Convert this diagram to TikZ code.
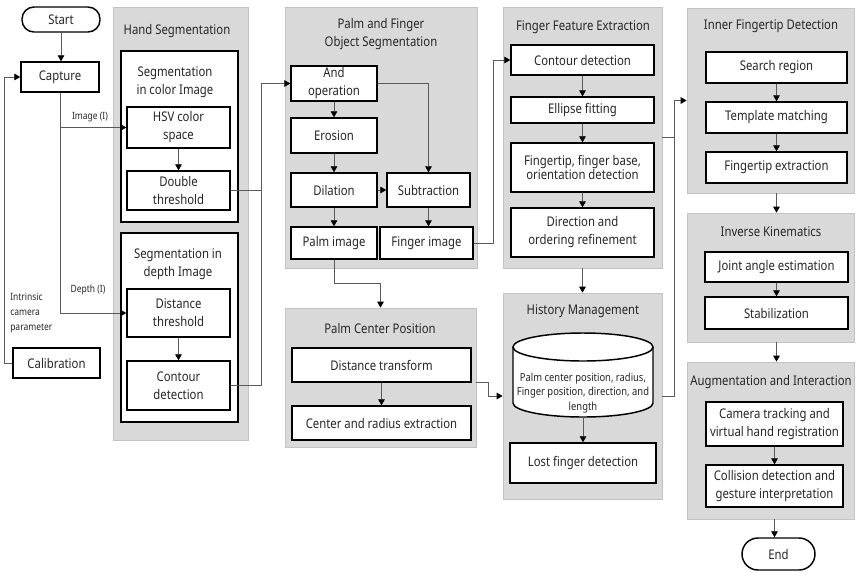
\documentclass[tikz,border=0pt]{standalone}
\usepackage{fontspec}
\setmainfont{Noto Sans}[FakeStretch=0.85]
\usetikzlibrary{arrows.meta,calc}
\definecolor{panelfill}{HTML}{D9D9D9}
\definecolor{panelline}{HTML}{C3C3C3}
\definecolor{wiregray}{HTML}{5A5A5A}
\definecolor{ink}{HTML}{262626}

% \rectnode[style]{x1}{y1}{x2}{y2}{name}{text}: a node spanning the given corners
\newcommand\rectnode[7][]{%
  \node[#1,minimum width={(#4-#2)*0.75pt},minimum height={(#5-#3)*0.75pt}]
    (#6) at ({(#2+#4)/2},{(#3+#5)/2}) {#7};}

\begin{document}
\begin{tikzpicture}[x=0.75pt,y=-0.75pt,
  panel/.style={fill=panelfill,draw=panelline,line width=0.6pt,inner sep=0pt},
  box/.style={fill=white,draw=black,line width=1.1pt,inner sep=0pt,align=center,
    text=ink,font=\fontsize{10}{13.5}\selectfont},
  group/.style={fill=white,draw=black,line width=1.1pt,inner sep=0pt},
  term/.style={box,rounded corners=#1},
  ttl/.style={text=ink,align=center,inner sep=0pt,font=\fontsize{10}{13.5}\selectfont},
  small/.style={text=ink,inner sep=0pt,font=\fontsize{7.5}{11.25}\selectfont},
  wire/.style={draw=wiregray,line width=0.6pt},
  arr/.style={wire,-{Triangle[length=4.5pt,width=5pt,color=black]}}
]
\useasboundingbox (0,0) rectangle (860,572);

% ---------- panels ----------
\rectnode[panel]{113}{7}{248}{440}{hs}{}
\rectnode[panel]{285}{7}{477}{268}{pfs}{}
\rectnode[panel]{285}{308}{476}{447}{pcp}{}
\rectnode[panel]{503}{7}{662}{268}{ffe}{}
\rectnode[panel]{503}{293}{662}{499}{hist}{}
\rectnode[panel]{687}{8}{854}{193}{ifd}{}
\rectnode[panel]{687}{213}{854}{342}{ik}{}
\rectnode[panel]{687}{362}{854}{519}{aug}{}

\node[ttl] (hsT) at (177,31) {Hand Segmentation};
\node[ttl] (pfsT) at (381,34) {Palm and Finger\\Object Segmentation};
\node[ttl] (pcpT) at (380,328) {Palm Center Position};
\node[ttl] (ffeT) at (583,27) {Finger Feature Extraction};
\node[ttl] (histT) at (583,311) {History Management};
\node[ttl] (ifdT) at (771,26) {Inner Fingertip Detection};
\node[ttl] (ikT) at (771,232) {Inverse Kinematics};
\node[ttl] (augT) at (771,382) {Augmentation and Interaction};

% ---------- input side ----------
\rectnode[term=9pt]{22}{7}{100}{32}{start}{Start}
\rectnode[box]{21}{62}{99}{92}{cap}{Capture}
\rectnode[box]{13}{348}{100}{378}{cal}{Calibration}
\node[small,anchor=west,align=left] (intr) at (10,313) {Intrinsic\\camera\\parameter};
\node[small] (imgL) at (90,117) {Image (I)};
\node[small] (depL) at (88,290) {Depth (I)};

% ---------- hand segmentation ----------
\rectnode[group]{121}{51}{238}{222}{gcol}{}
\node[ttl] (gcolT) at (175,82) {Segmentation\\in color Image};
\rectnode[box]{127}{107}{230}{148}{hsv}{HSV color\\space}
\rectnode[box]{127}{171}{230}{210}{dbl}{Double\\threshold}
\rectnode[group]{121}{233}{238}{422}{gdep}{}
\node[ttl] (gdepT) at (178,264) {Segmentation in\\depth Image};
\rectnode[box]{127}{289}{230}{337}{dth}{Distance\\threshold}
\rectnode[box]{127}{361}{230}{410}{cd1}{Contour\\detection}

% ---------- palm and finger object segmentation ----------
\rectnode[box]{291}{66}{377}{101}{and}{And\\operation}
\rectnode[box]{291}{118}{377}{153}{ero}{Erosion}
\rectnode[box]{291}{173}{377}{207}{dil}{Dilation}
\rectnode[box]{387}{173}{470}{207}{sub}{Subtraction}
\rectnode[box]{291}{227}{377}{259}{palm}{Palm image}
\rectnode[box]{380}{227}{473}{259}{fing}{Finger image}

% ---------- palm center position ----------
\rectnode[box]{292}{348}{471}{382}{dtf}{Distance transform}
\rectnode[box]{292}{406}{471}{440}{cre}{Center and radius extraction}

% ---------- finger feature extraction ----------
\rectnode[box]{511}{45}{654}{75}{ctd}{Contour detection}
\rectnode[box]{511}{97}{654}{123}{ell}{Ellipse fitting}
\rectnode[box,font=\fontsize{10}{11}\selectfont]{511}{143}{654}{192}{ftb}{Fingertip, finger base,\\orientation detection}
\rectnode[box]{511}{208}{654}{257}{dor}{Direction and\\ordering refinement}

% ---------- history management (database cylinder) ----------
\fill[white] (513,347) -- (513,403)
  arc[start angle=180,end angle=360,x radius=52.5pt,y radius=10.5pt] -- (653,347) -- cycle;
\draw[line width=1.1pt] (513,347) -- (513,403)
  arc[start angle=180,end angle=360,x radius=52.5pt,y radius=10.5pt] -- (653,347);
\draw[line width=1.1pt,fill=white] (583,347) ellipse[x radius=52.5pt,y radius=10.5pt];
\node[text=ink,align=center,inner sep=0pt,font=\fontsize{8.3}{11}\selectfont] (db) at (583,393)
  {Palm center position, radius,\\Finger position, direction, and\\length};
\coordinate (dbB) at (583,417);
\rectnode[box]{510}{443}{656}{483}{lfd}{Lost finger detection}

% ---------- inner fingertip detection ----------
\rectnode[box]{706}{52}{847}{83}{sr}{Search region}
\rectnode[box]{706}{102}{847}{133}{tm}{Template matching}
\rectnode[box]{706}{152}{847}{183}{fe}{Fingertip extraction}

% ---------- inverse kinematics ----------
\rectnode[box]{705}{252}{848}{282}{ja}{Joint angle estimation}
\rectnode[box]{705}{297}{848}{329}{stb}{Stabilization}

% ---------- augmentation and interaction ----------
\rectnode[box]{706}{402}{843}{446}{cth}{Camera tracking and\\virtual hand registration}
\rectnode[box]{706}{465}{843}{507}{cdg}{Collision detection and\\gesture interpretation}
\rectnode[term=12pt]{742}{538}{815}{570}{endn}{End}

% ---------- routing columns ----------
\coordinate (jA) at (261,0);
\coordinate (jB) at (493,0);
\coordinate (jC) at (0,283);
\coordinate (jD) at (488,0);
\coordinate (jE) at (674,0);

% ---------- connectors ----------
\draw[arr] (start.south) -- (start.south |- cap.north);
\draw[arr] (cal.west) -- ++(-6pt,0) |- (cap.west);
\draw[arr] (cap.south) |- (hsv.west);
\draw[arr] (cap.south) |- (dth.west);
\draw[arr] (hsv) -- (dbl);
\draw[arr] (dth) -- (cd1);
\draw[arr] (dbl.east) -- (jA |- dbl.east) |- (and.west);
\draw[wire] (cd1.east) -- (jA |- cd1.east) -- (jA |- dbl.east);

\draw[arr] (and) -- (ero);
\draw[arr] (ero) -- (dil);
\draw[arr] (dil) -- (palm);
\draw[arr] (dil) -- (sub);
\draw[arr] (and.east) -| (sub.north);
\draw[arr] (sub.south) -- (sub.south |- fing.north);
\draw[arr] (fing.east) -- (jB |- fing.east) |- (ctd.west);
\draw[arr] (palm.south) -- (palm.south |- jC) -| (pcp.north);
\draw[arr] (dtf) -- (cre);
\draw[arr] (pcp.east |- dtf.south) -- (jD |- dtf.south) |- (hist.west);

\draw[arr] (ctd) -- (ell);
\draw[arr] (ell) -- (ftb);
\draw[arr] (ftb) -- (dor);
\draw[arr] (ffe.south) -- (hist.north);
\draw[arr] (dbB) -- (lfd.north);
\draw[arr] (ffe.east) -- (jE |- ffe.east) |- (ifd.west);
\draw[wire] (hist.east) -- (jE |- hist.east) -- (jE |- ffe.east);

\draw[arr] (sr) -- (tm);
\draw[arr] (tm) -- (fe);
\draw[arr] (sr.south |- ifd.south) -- (sr.south |- ik.north);
\draw[arr] (ja) -- (stb);
\draw[arr] (ja.south |- ik.south) -- (ja.south |- aug.north);
\draw[arr] (cth) -- (cdg);
\draw[arr] (cth.south |- aug.south) -- (cth.south |- endn.north);
\end{tikzpicture}
\end{document}
